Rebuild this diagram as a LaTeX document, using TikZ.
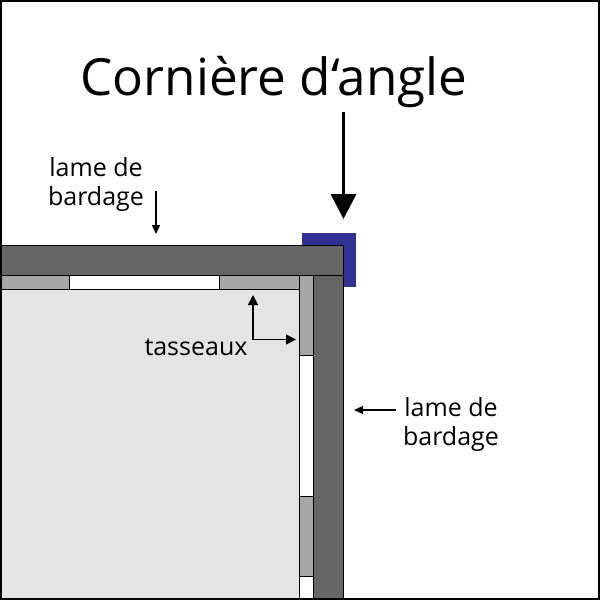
\documentclass[tikz,border=0pt]{standalone}
\usepackage{fontspec}
\setmainfont{Open Sans}
\usetikzlibrary{arrows.meta}
\definecolor{bardage}{HTML}{666666}
\definecolor{tasseau}{HTML}{A6A6A6}
\definecolor{mur}{HTML}{E4E4E4}
\definecolor{corniere}{HTML}{2E3192}
\tikzset{
	lame/.style={draw=black, line width=1pt, fill=bardage},
	tass/.style={draw=black, line width=1pt, fill=tasseau},
	vide/.style={draw=black, line width=1pt, fill=white},
	fleche/.style={-{Triangle[length=10pt,width=10pt]}, line width=1.7pt},
	legende/.style={font=\fontsize{25}{29}\selectfont, align=center, inner sep=0pt}
}
\begin{document}
\begin{tikzpicture}[x=1pt, y=-1pt]
\useasboundingbox (0,0) rectangle (600,600);
%
% coupe d'un angle de bardage

%% corniere
\fill[corniere] (302,233) rectangle (356,287);
%% mur
\draw[line width=1pt, fill=mur] (1,289) rectangle (299,600);
%% tasseaux du haut
\draw[tass] (1,275) rectangle (69,289);
\draw[vide] (69,275) rectangle (219,289);
\draw[tass] (219,275) rectangle (299,289);
%% tasseaux de droite
\draw[tass] (299,275) rectangle (313.5,355);
\draw[vide] (299,355) rectangle (313.5,496);
\draw[tass] (299,496) rectangle (313.5,576);
\draw[vide] (299,576) rectangle (313.5,600);
%% lames
\draw[lame] (313.5,275) rectangle (343.5,598.5);
\draw[lame] (1,245.5) rectangle (343.5,275);
%% textes
\node (titre) at (274,82) {\fontsize{51.2}{60}\selectfont Cornière d‘angle};
\node[legende] (lamehaut) at (96,185) {lame de\\bardage};
\node[legende] (lamedroite) at (451,424) {lame de\\bardage};
\node[legende] (tasseaux) at (196,347) {tasseaux};
%% fleches
\coordinate (titrea) at (343.5,112);
\coordinate (titreb) at (343.5,219);
\draw[-{Triangle[length=25pt,width=25pt]}, line width=3.5pt] (titrea) -- (titreb);
\coordinate (hauta) at (156,191);
\coordinate (hautb) at (156,234);
\draw[-{Triangle[length=9pt,width=8pt]}, line width=1.4pt] (hauta) -- (hautb);
\coordinate (droitea) at (396,410);
\coordinate (droiteb) at (354,410);
\draw[-{Triangle[length=9pt,width=8pt]}, line width=1.4pt] (droitea) -- (droiteb);
\coordinate (coude) at (253,339.5);
\coordinate (coudea) at (253,295);
\coordinate (coudeb) at (296,339.5);
\draw[fleche] (coude) -- (coudea);
\draw[fleche] (coude) -- (coudeb);
%% cadre
\draw[line width=4pt] (0,0) rectangle (600,600);
\end{tikzpicture}
\end{document}
